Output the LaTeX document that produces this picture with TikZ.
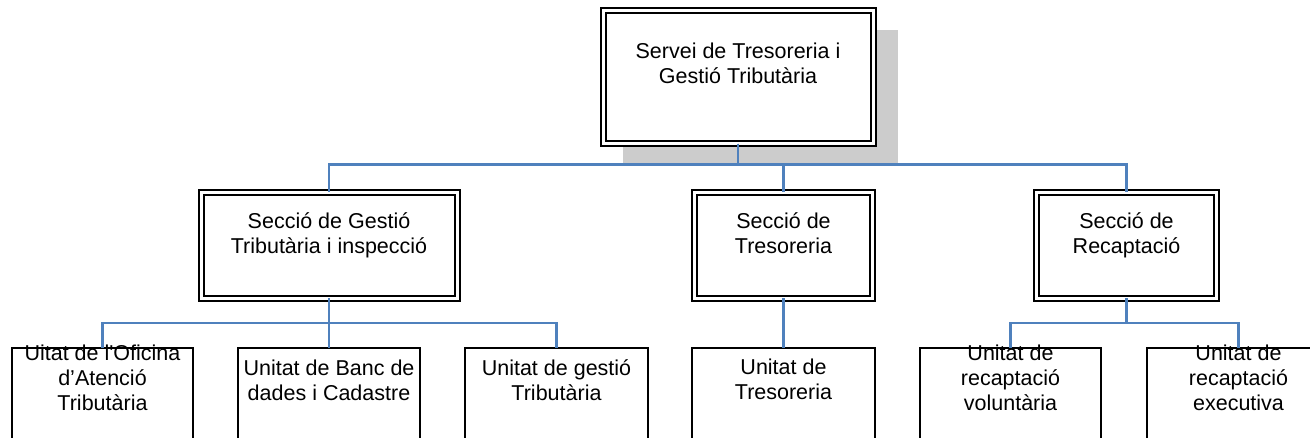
\documentclass[tikz,border=0pt]{standalone}
\usepackage{fontspec}
\setmainfont{Liberation Sans}
\begin{document}
\begin{tikzpicture}[x=1pt,y=-1pt,
  box/.style={draw=black,fill=white,line width=1.8pt,inner sep=0pt,outer sep=0pt},
  dbox/.style={box,double=white,double distance=3pt,line width=2pt},
  lbl/.style={anchor=north,align=center,inner sep=0pt,font=\fontsize{21.5}{25}\selectfont},
  conn/.style={draw={rgb,255:red,79;green,129;blue,189},line width=2.2pt}]
\useasboundingbox (0,0) rectangle (1310,437);
\clip (0,0) rectangle (1310,437);
% shadow
\fill[black!20] (623,30) rectangle (898,165);
% boxes
\node[dbox,minimum width=270pt,minimum height=133pt] (top) at (738,77) {};
\node[dbox,minimum width=256pt,minimum height=106pt] (s1) at (329,245) {};
\node[dbox,minimum width=178pt,minimum height=106pt] (s2) at (783.5,245) {};
\node[dbox,minimum width=180pt,minimum height=106pt] (s3) at (1126.5,245) {};
\node[box,anchor=north,minimum width=181pt,minimum height=110pt] (b1) at (102.5,348) {};
\node[box,anchor=north,minimum width=182pt,minimum height=110pt] (b2) at (329,348) {};
\node[box,anchor=north,minimum width=183pt,minimum height=110pt] (b3) at (556.5,348) {};
\node[box,anchor=north,minimum width=183pt,minimum height=110pt] (b4) at (783.5,348) {};
\node[box,anchor=north,minimum width=181pt,minimum height=110pt] (b5) at (1010.5,348) {};
\node[box,anchor=north,minimum width=183pt,minimum height=110pt] (b6) at (1238.5,348) {};
% labels
\node[lbl] (ttop) at (738,43) {Servei de Tresoreria i\\Gestió Tributària};
\node[lbl] (ts1) at (329,212) {Secció de Gestió\\Tributària i inspecció};
\node[lbl] (ts2) at (783.5,212) {Secció de\\Tresoreria};
\node[lbl] (ts3) at (1126.5,212) {Secció de\\Recaptació};
\node[lbl] (tb1) at (102.5,345) {Uitat de l\textquotesingle Oficina\\d’Atenció\\Tributària};
\node[lbl] (tb2) at (329,360) {Unitat de Banc de\\dades i Cadastre};
\node[lbl] (tb3) at (556.5,359) {Unitat de gestió\\Tributària};
\node[lbl] (tb4) at (783.5,359) {Unitat de\\Tresoreria};
\node[lbl] (tb5) at (1010.5,345) {Unitat de\\recaptació\\voluntària};
\node[lbl] (tb6) at (1238.5,345) {Unitat de\\recaptació\\executiva};
% connectors
\draw[conn] (top.south) -- ++(0,21) -| (s1.north);
\draw[conn] (top.south) -- ++(0,21) -| (s2.north);
\draw[conn] (top.south) -- ++(0,21) -| (s3.north);
\draw[conn] (s1.south) -- ++(0,25) -| (b1.north);
\draw[conn] (s1.south) -- (b2.north);
\draw[conn] (s1.south) -- ++(0,25) -| (b3.north);
\draw[conn] (s2.south) -- (b4.north);
\draw[conn] (s3.south) -- ++(0,25) -| (b5.north);
\draw[conn] (s3.south) -- ++(0,25) -| (b6.north);
\end{tikzpicture}
\end{document}
